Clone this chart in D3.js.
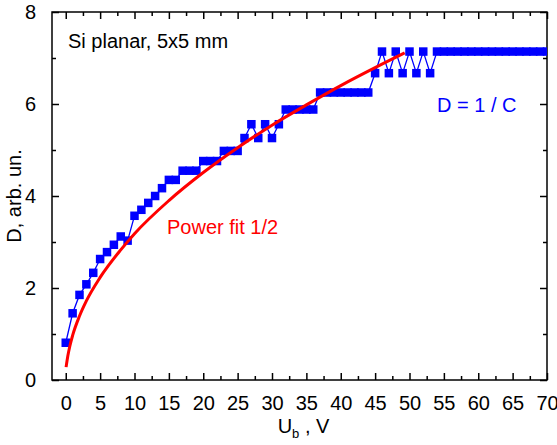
<!DOCTYPE html>
<html>
<head>
<meta charset="utf-8">
<script src="https://cdn.jsdelivr.net/npm/d3@7"></script>
<style>
  body { margin: 0; background: #fff; }
  svg { display: block; font-family: Arial, "Liberation Sans", sans-serif; }
</style>
</head>
<body>
<svg id="chart"></svg>
<script>
// bias voltage, V
const voltage = [0, 1, 2, 3, 4, 5, 6, 7, 8, 9, 10, 11, 12, 13, 14, 15, 16, 17, 18, 19,
  20, 21, 22, 23, 24, 25, 26, 27, 28, 29, 30, 31, 32, 33, 34, 35, 36, 37, 38, 39,
  40, 41, 42, 43, 44, 45, 46, 47, 48, 49, 50, 51, 52, 53, 54, 55, 56, 57, 58, 59,
  60, 61, 62, 63, 64, 65, 66, 67, 68, 69, 70];
// D = 1 / C, arb. un.
const depth = [0.81, 1.45, 1.85, 2.08, 2.33, 2.63, 2.78, 2.94, 3.12, 3.03,
  3.57, 3.70, 3.85, 4.00, 4.17, 4.35, 4.35, 4.55, 4.55, 4.55,
  4.76, 4.76, 4.76, 4.98, 4.98, 4.98, 5.26, 5.56, 5.26, 5.56,
  5.26, 5.56, 5.88, 5.88, 5.88, 5.88, 5.88, 6.25, 6.25, 6.25,
  6.25, 6.25, 6.25, 6.25, 6.25, 6.67, 7.14, 6.67, 7.14, 6.67,
  7.14, 6.67, 7.14, 6.67, 7.14, 7.14, 7.14, 7.14, 7.14, 7.14,
  7.14, 7.14, 7.14, 7.14, 7.14, 7.14, 7.14, 7.14, 7.14, 7.14, 7.14];
// power fit 1/2
const fitU = [0.05, 0.3, 0.6, 1, 2, 3, 5, 8, 10, 15, 20, 25, 30, 35, 40, 45, 49.3];
const fitD = [0.28, 0.52, 0.74, 0.97, 1.39, 1.72, 2.23, 2.83, 3.18, 3.9, 4.51, 5.05, 5.54, 5.98, 6.40, 6.79, 7.11];

const xMajor = [0, 5, 10, 15, 20, 25, 30, 35, 40, 45, 50, 55, 60, 65, 70];
const xMinor = [2.5, 7.5, 12.5, 17.5, 22.5, 27.5, 32.5, 37.5, 42.5, 47.5, 52.5, 57.5, 62.5, 67.5];
const yMajor = [0, 2, 4, 6, 8];
const yMinor = [1, 3, 5, 7];

const width = 557, height = 445;
const m = { left: 52, right: 10, top: 12, bottom: 65 };

const svg = d3.select("#chart").attr("width", width).attr("height", height);

const x = d3.scaleLinear().domain([-2, 70]).range([m.left, width - m.right]);
const y = d3.scaleLinear().domain([0, 8]).range([height - m.bottom, m.top]);

svg.append("defs").append("clipPath").attr("id", "clip")
   .append("rect")
   .attr("x", m.left).attr("y", m.top)
   .attr("width", width - m.left - m.right)
   .attr("height", height - m.top - m.bottom);

const fs = 20;

// axes with inward ticks
function ax(axisFn, scale, values, size, pos, labels) {
  const g = svg.append("g")
    .attr("transform", pos)
    .call(axisFn(scale).tickValues(values).tickSize(-size).tickPadding(size + 9)
      .tickFormat(labels ? d3.format("d") : ""));
  g.select(".domain").remove();
  g.selectAll(".tick line").attr("stroke", "#000").attr("stroke-width", 1.5);
  g.selectAll("text").attr("font-size", fs).attr("fill", "#000");
  return g;
}
const bottom = height - m.bottom, right = width - m.right;
ax(d3.axisBottom, x, xMajor, 7, `translate(0,${bottom})`, true);
ax(d3.axisBottom, x, xMinor, 4, `translate(0,${bottom})`, false);
ax(d3.axisTop, x, xMajor, 7, `translate(0,${m.top})`, false);
ax(d3.axisTop, x, xMinor, 4, `translate(0,${m.top})`, false);
ax(d3.axisLeft, y, yMajor, 7, `translate(${m.left},0)`, true);
ax(d3.axisLeft, y, yMinor, 4, `translate(${m.left},0)`, false);
ax(d3.axisRight, y, yMajor, 7, `translate(${right},0)`, false);
ax(d3.axisRight, y, yMinor, 4, `translate(${right},0)`, false);

svg.append("rect")
   .attr("x", m.left).attr("y", m.top)
   .attr("width", right - m.left).attr("height", bottom - m.top)
   .attr("fill", "none").attr("stroke", "#000").attr("stroke-width", 1.5);

const plot = svg.append("g").attr("clip-path", "url(#clip)");

const pts = voltage.map((v, i) => [v, depth[i]]);
plot.append("path")
    .datum(pts)
    .attr("fill", "none")
    .attr("stroke", "#0000ff")
    .attr("stroke-width", 1.3)
    .attr("d", d3.line().x(d => x(d[0])).y(d => y(d[1])));

const ms = 8.5;
plot.selectAll("rect.pt")
    .data(pts)
    .enter()
    .append("rect")
    .attr("class", "pt")
    .attr("x", d => x(d[0]) - ms / 2)
    .attr("y", d => y(d[1]) - ms / 2)
    .attr("width", ms)
    .attr("height", ms)
    .attr("fill", "#0000ff");

const fit = fitU.map((v, i) => [v, fitD[i]]);
plot.append("path")
    .datum(fit)
    .attr("fill", "none")
    .attr("stroke", "#ff0000")
    .attr("stroke-width", 3)
    .attr("d", d3.line().curve(d3.curveMonotoneX).x(d => x(d[0])).y(d => y(d[1])));

// labels
svg.append("text").attr("x", 68).attr("y", 48).attr("font-size", fs).text("Si planar, 5x5 mm");
svg.append("text").attr("x", 167).attr("y", 234).attr("font-size", fs).attr("fill", "#ff0000").text("Power fit 1/2");
svg.append("text").attr("x", 437).attr("y", 112).attr("font-size", fs).attr("fill", "#0000ff").text("D = 1 / C");

const xt = svg.append("text")
   .attr("x", (m.left + right) / 2 + 4).attr("y", 433)
   .attr("text-anchor", "middle").attr("font-size", fs);
xt.append("tspan").text("U");
xt.append("tspan").attr("font-size", 13).attr("dy", 5).text("b");
xt.append("tspan").attr("dy", -5).text(" , V");

svg.append("text")
   .attr("transform", `translate(21,${(m.top + bottom) / 2}) rotate(-90)`)
   .attr("text-anchor", "middle").attr("font-size", fs)
   .text("D, arb. un.");
</script>
</body>
</html>
